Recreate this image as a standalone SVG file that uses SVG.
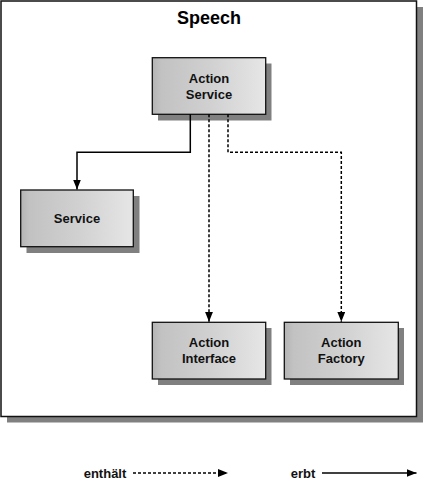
<svg xmlns="http://www.w3.org/2000/svg" width="424" height="482" viewBox="0 0 424 482">
<style>
.lbl{font-family:"Liberation Sans",Arial,sans-serif;font-weight:bold;font-size:13px;fill:#111;text-anchor:middle}
.title{font-family:"Liberation Sans",Arial,sans-serif;font-weight:bold;font-size:18px;fill:#000;text-anchor:middle}
.box{fill:url(#g);stroke:#111;stroke-width:1.3}
.shadow{fill:#808080}
.conn{fill:none;stroke:#000;stroke-width:1.5}
.dash{stroke-dasharray:3,2}
</style>
<defs>
<linearGradient id="g" x1="0" y1="0" x2="1" y2="0">
<stop offset="0" stop-color="#b4b4b4"/>
<stop offset="0.08" stop-color="#c2c2c2"/>
<stop offset="0.5" stop-color="#d0d0d0"/>
<stop offset="1" stop-color="#e6e6e6"/>
</linearGradient>
<marker id="ah" markerWidth="10" markerHeight="8" refX="10" refY="4" orient="auto" markerUnits="userSpaceOnUse">
<path d="M0,0 L10,4 L0,8 Z" fill="#000"/>
</marker>
</defs>
<g id="frame">
<rect class="shadow" x="7" y="7" width="416" height="415.5"/>
<rect x="1" y="1" width="415.5" height="415.5" fill="#fff" stroke="#111" stroke-width="1.5"/>
<text class="title" x="209" y="24">Speech</text>
</g>
<g id="action-service">
<rect class="shadow" x="158" y="63.5" width="113.5" height="57"/>
<rect class="box" x="152.3" y="57.7" width="113.4" height="56.6"/>
<text class="lbl" x="209" y="82.5">Action</text>
<text class="lbl" x="209" y="98.5">Service</text>
</g>
<g id="service">
<rect class="shadow" x="26.5" y="196" width="113" height="57"/>
<rect class="box" x="20.7" y="190" width="112.6" height="56.7"/>
<text class="lbl" x="77" y="222.5">Service</text>
</g>
<g id="action-interface">
<rect class="shadow" x="158" y="328" width="113.5" height="57"/>
<rect class="box" x="152.3" y="322.3" width="113.4" height="56.7"/>
<text class="lbl" x="209" y="347">Action</text>
<text class="lbl" x="209" y="363">Interface</text>
</g>
<g id="action-factory">
<rect class="shadow" x="290" y="328" width="114" height="57"/>
<rect class="box" x="284.3" y="322.3" width="114" height="56.7"/>
<text class="lbl" x="341.3" y="347">Action</text>
<text class="lbl" x="341.3" y="363">Factory</text>
</g>
<g id="connectors">
<path class="conn" d="M190.3,114.3 V152.3 H77 V189.5" marker-end="url(#ah)"/>
<path class="conn dash" d="M209,114.3 V321.8" marker-end="url(#ah)"/>
<path class="conn dash" d="M228,114.3 V152.3 H341.3 V321.8" marker-end="url(#ah)"/>
</g>
<g id="legend">
<text class="lbl" x="105" y="477.5">enthält</text>
<path class="conn dash" d="M133,473 H228" marker-end="url(#ah)"/>
<text class="lbl" x="303" y="477.5">erbt</text>
<path class="conn" d="M322,473 H416.5" marker-end="url(#ah)"/>
</g>
</svg>
